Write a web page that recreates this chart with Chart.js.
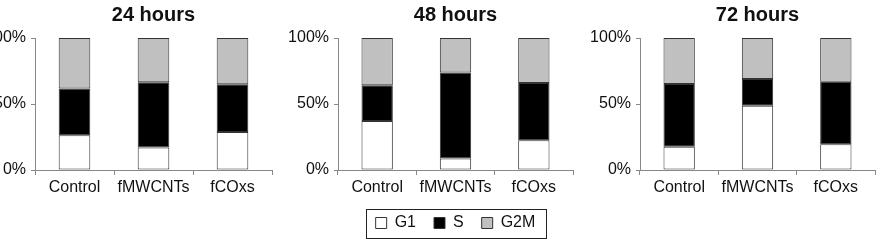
<!DOCTYPE html>
<html>
<head>
<meta charset="utf-8">
<script src="https://cdn.jsdelivr.net/npm/chart.js@4/dist/chart.umd.min.js"></script>
<style>
  html, body { margin: 0; padding: 0; background: #fff; }
  body { width: 880px; height: 246px; overflow: hidden; position: relative; }
  canvas { position: absolute; top: 0; }
</style>
</head>
<body>
<canvas id="c1" width="337" height="246" style="left:-15px"></canvas>
<canvas id="c2" width="335" height="246" style="left:288px"></canvas>
<canvas id="c3" width="335" height="246" style="left:590px"></canvas>
<script>
const categories = ['Control', 'fMWCNTs', 'fCOxs'];
const panelTitles = ['24 hours', '48 hours', '72 hours'];
const seriesNames = ['G1', 'S', 'G2M'];
const yTicks = [0, 50, 100];

const g1_24h  = [26.4, 17.1, 28.7];
const s_24h   = [35.3, 49.4, 36.3];
const g2m_24h = [38.3, 33.5, 35.0];

const g1_48h  = [37.1, 8.8, 22.6];
const s_48h   = [27.1, 65.1, 43.3];
const g2m_48h = [35.8, 26.1, 34.1];

const g1_72h  = [17.6, 48.6, 19.6];
const s_72h   = [47.6, 20.4, 47.2];
const g2m_72h = [34.8, 31.0, 33.2];

const FONT = '"Liberation Sans", Arial, sans-serif';
const colors = ['#ffffff', '#000000', '#c0c0c0'];
const AXIS_W = 50;
const XAXIS_H = 27;
const LEGEND_PAD_BOTTOM = 5;

function centerOnPlot(chart, box) {
  if (!box || !box.options.display) return;
  const shift = (chart.chartArea.left + chart.chartArea.right) / 2 - (box.left + box.right) / 2;
  box.left += shift;
  box.right += shift;
}

const legendBoxPlugin = {
  id: 'legendBox',
  afterLayout(chart) {
    centerOnPlot(chart, chart.legend);
    centerOnPlot(chart, chart.titleBlock);
  },
  afterDraw(chart) {
    const lg = chart.legend;
    if (!lg || !lg.options.display || !lg.legendHitBoxes || !lg.legendHitBoxes.length) return;
    const hb = lg.legendHitBoxes;
    const first = hb[0], last = hb[hb.length - 1];
    const ctx = chart.ctx;
    const l = first.left - 10, r = last.left + last.width + 10;
    const t = first.top - 6.5, b = first.top + first.height + 6.5;
    ctx.save();
    ctx.strokeStyle = '#222';
    ctx.lineWidth = 1;
    ctx.strokeRect(Math.round(l) + 0.5, Math.round(t) + 0.5, Math.round(r - l), Math.round(b - t));
    ctx.restore();
  }
};

function makeChart(id, title, g1, s, g2m, showLegend, bottomPad) {
  const data = [g1, s, g2m];
  return new Chart(document.getElementById(id), {
    type: 'bar',
    data: {
      labels: categories,
      datasets: seriesNames.map((n, i) => ({
        label: n,
        data: data[i],
        backgroundColor: colors[i],
        borderColor: '#333',
        borderWidth: 1,
        borderSkipped: false,
        categoryPercentage: 1.0,
        barPercentage: 0.4
      }))
    },
    options: {
      responsive: false,
      animation: false,
      devicePixelRatio: 1,
      layout: { padding: { left: 0, right: AXIS_W, top: 0, bottom: bottomPad } },
      plugins: {
        title: {
          display: true,
          text: title,
          color: '#111',
          font: { family: FONT, size: 20, weight: 'bold' },
          padding: { top: 3, bottom: 11 }
        },
        legend: {
          display: showLegend,
          position: 'bottom',
          labels: {
            color: '#111',
            font: { family: FONT, size: 16 },
            boxWidth: 11,
            boxHeight: 11,
            padding: 18
          }
        },
        tooltip: { enabled: false }
      },
      scales: {
        x: {
          stacked: true,
          afterFit(scale) { scale.height = XAXIS_H; },
          grid: { display: true, drawOnChartArea: false, drawTicks: true, tickLength: 5, color: '#888', offset: true },
          border: { display: true, color: '#888', width: 1 },
          ticks: { color: '#111', font: { family: FONT, size: 16 }, padding: 3, maxRotation: 0 }
        },
        y: {
          stacked: true,
          min: 0,
          max: 100,
          afterFit(scale) { scale.width = AXIS_W; },
          afterBuildTicks(scale) { scale.ticks = yTicks.map(v => ({ value: v })); },
          grid: { display: true, drawOnChartArea: false, drawTicks: true, tickLength: 4, color: '#888' },
          border: { display: true, color: '#888', width: 1 },
          ticks: { color: '#111', font: { family: FONT, size: 16 }, padding: 5, callback: v => v + '%' }
        }
      }
    },
    plugins: [legendBoxPlugin]
  });
}

const chart2 = makeChart('c2', panelTitles[1], g1_48h, s_48h, g2m_48h, true, LEGEND_PAD_BOTTOM);
const otherPad = LEGEND_PAD_BOTTOM + chart2.legend.height;
makeChart('c1', panelTitles[0], g1_24h, s_24h, g2m_24h, false, otherPad);
makeChart('c3', panelTitles[2], g1_72h, s_72h, g2m_72h, false, otherPad);
</script>
</body>
</html>
